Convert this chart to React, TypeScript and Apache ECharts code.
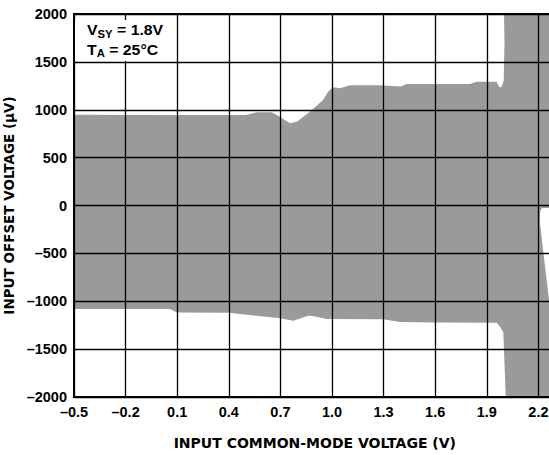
import React, { useEffect, useRef } from "react";
import * as echarts from "echarts";

// Upper edge of the shaded offset band (x in V, y in µV)
const upperX = [-0.5, 0.05, 0.5, 0.56, 0.65, 0.7, 0.756, 0.795, 0.872, 0.948, 0.977, 1.006, 1.047, 1.105, 1.28, 1.4, 1.434, 1.802, 1.84, 1.957, 1.972, 1.985, 1.998, 2.003, 2.0];
const upperY = [948, 945, 945, 973, 973, 921, 858, 875, 980, 1102, 1189, 1234, 1224, 1255, 1255, 1242, 1269, 1269, 1293, 1293, 1238, 1234, 1300, 1700, 2000];

// Lower edge of the shaded offset band
const lowerX = [-0.5, 0.058, 0.097, 0.4, 0.7, 0.775, 0.862, 0.89, 0.969, 1.298, 1.395, 1.6, 1.957, 1.977, 1.996, 2.003, 2.01];
const lowerY = [-1080, -1082, -1117, -1120, -1178, -1203, -1151, -1154, -1185, -1188, -1218, -1222, -1224, -1266, -1320, -1650, -2000];

// White gap at the far right
const wedgeX = [2.225, 2.3, 2.3, 2.262, 2.236, 2.209, 2.209, 2.215];
const wedgeY = [-25, -25, -1290, -987, -600, -183, -80, -40];

const xMin = -0.5;
const xMax = 2.3;
const xStep = 0.3;
const yMin = -2000;
const yMax = 2000;
const yStep = 500;

const FONT = '"Liberation Sans", Arial, Helvetica, sans-serif';
const WIDE = '"DejaVu Sans", "Liberation Sans", Arial, sans-serif';

const dash = (s: string) => s.replace("-", "\u2013");

export default function App() {
  const ref = useRef<HTMLDivElement>(null);

  useEffect(() => {
    if (!ref.current) return;
    const chart = echarts.init(ref.current, null, { renderer: "svg" });

    const bandX = [...upperX, xMax, xMax, ...lowerX.slice().reverse()];
    const bandY = [...upperY, yMax, yMin, ...lowerY.slice().reverse()];

    const polySeries = (name: string, xs: number[], ys: number[], fill: string, z: number) => ({
      type: "custom",
      name,
      coordinateSystem: "cartesian2d",
      z,
      silent: true,
      data: [[xs[0], ys[0]]],
      renderItem: (_p: any, api: any) => ({
        type: "polygon",
        shape: { points: xs.map((x, i) => api.coord([x, ys[i]])) },
        style: { fill, stroke: "none" },
      }),
    });

    const rich = {
      m: { fontSize: 14, fontWeight: "bold", fontFamily: FONT, fill: "#000", lineHeight: 16, verticalAlign: "top" },
      s: { fontSize: 10, fontWeight: "bold", fontFamily: FONT, fill: "#000", lineHeight: 10, padding: [6, 0, 0, 0], verticalAlign: "top" },
    };

    chart.setOption({
      animation: false,
      backgroundColor: "#fff",
      grid: {
        left: 74,
        top: 14,
        width: 481.6,
        height: 383,
        outerBoundsMode: "none",
        containLabel: false,
        show: true,
        borderColor: "#000",
        borderWidth: 2,
        backgroundColor: "transparent",
        z: 6,
      },
      xAxis: {
        type: "value",
        min: xMin,
        max: xMax,
        interval: xStep,
        z: 5,
        axisLine: { show: false },
        axisTick: { show: false },
        splitLine: { show: true, lineStyle: { color: "#000", width: 1.3 } },
        axisLabel: {
          margin: 7,
          fontSize: 14.5,
          fontWeight: "bold",
          color: "#000",
          fontFamily: FONT,
          formatter: (v: number) => (v > 2.25 ? "" : dash((Math.round(v * 10) / 10).toFixed(1))),
        },
        name: "INPUT COMMON-MODE VOLTAGE (V)",
        nameLocation: "middle",
        nameGap: 39,
        nameTextStyle: { fontSize: 14, fontWeight: "bold", color: "#000", fontFamily: WIDE },
      },
      yAxis: {
        type: "value",
        min: yMin,
        max: yMax,
        interval: yStep,
        z: 5,
        axisLine: { show: false },
        axisTick: { show: false },
        splitLine: { show: true, lineStyle: { color: "#000", width: 1.3 } },
        axisLabel: {
          margin: 7,
          fontSize: 14.5,
          fontWeight: "bold",
          color: "#000",
          fontFamily: FONT,
          formatter: (v: number) => dash(String(Math.round(v))),
        },
        name: "INPUT OFFSET VOLTAGE (\u00b5V)",
        nameLocation: "middle",
        nameGap: 46,
        nameTextStyle: { fontSize: 13.5, fontWeight: "bold", color: "#000", fontFamily: WIDE },
      },
      graphic: [
        {
          type: "rect",
          z: 10,
          silent: true,
          shape: { x: 75, y: 20, width: 97, height: 41 },
          style: { fill: "#fff" },
        },
        {
          type: "text",
          z: 11,
          silent: true,
          x: 87,
          y: 23,
          scaleX: 1.13,
          style: { text: "{m|V}{s|SY}{m| = 1.8V}", rich, verticalAlign: "top", align: "left" },
        },
        {
          type: "text",
          z: 11,
          silent: true,
          x: 87,
          y: 42.5,
          scaleX: 1.13,
          style: { text: "{m|T}{s|A}{m| = 25\u00b0C}", rich, verticalAlign: "top", align: "left" },
        },
      ],
      series: [
        polySeries("band", bandX, bandY, "#9a9a9a", 1),
        polySeries("gap", wedgeX, wedgeY, "#fff", 2),
      ],
    });

    return () => chart.dispose();
  }, []);

  return (
    <div
      ref={ref}
      style={{ position: "absolute", left: 0, top: 0, width: 549, height: 455 }}
    />
  );
}
